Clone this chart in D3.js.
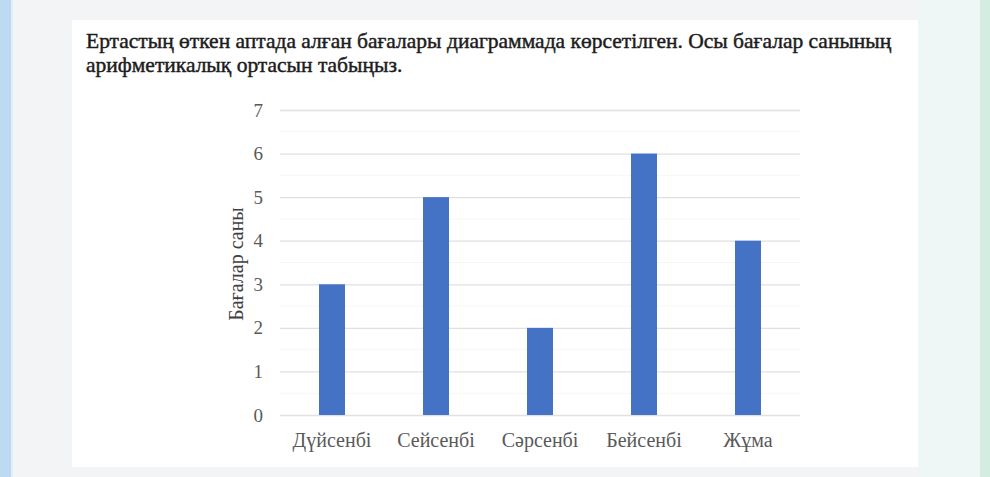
<!DOCTYPE html>
<html><head><meta charset="utf-8">
<script src="https://cdn.jsdelivr.net/npm/d3@7"></script>
<style>
html,body{margin:0;padding:0;background:#f2f4f5;}
svg{display:block;}
</style></head>
<body>
<svg id="c" width="990" height="477"></svg>
<script>
const titleLines = [
  "Ертастың өткен аптада алған бағалары диаграммада көрсетілген. Осы бағалар санының",
  "арифметикалық ортасын табыңыз."
];
const categories = ["Дүйсенбі", "Сейсенбі", "Сәрсенбі", "Бейсенбі", "Жұма"];
const values = [3, 5, 2, 6, 4];
const yTicks = [0, 1, 2, 3, 4, 5, 6, 7];
const yTitle = "Бағалар саны";

const svg = d3.select("#c");
const serif = "'Liberation Serif', 'DejaVu Serif', serif";

// page background
svg.append("rect").attr("x",0).attr("y",0).attr("width",990).attr("height",477).attr("fill","#f3f4f5");
svg.append("rect").attr("x",918).attr("y",0).attr("width",62).attr("height",477).attr("fill","#eff6f6");
svg.append("rect").attr("x",0).attr("y",0).attr("width",11).attr("height",477).attr("fill","#bcdaf1");
svg.append("rect").attr("x",11).attr("y",0).attr("width",2).attr("height",477).attr("fill","#e3eef6");
svg.append("rect").attr("x",980).attr("y",0).attr("width",10).attr("height",477).attr("fill","#d3ede3");
// card
svg.append("rect").attr("x",72).attr("y",20).attr("width",846).attr("height",447).attr("fill","#ffffff");

// title
const titleG = svg.append("g");
const tnodes = titleLines.map((t,i)=> titleG.append("text").attr("x",86).attr("y",48 + i*24)
    .attr("font-family",serif).attr("font-size",20).attr("fill","#1c1c1c")
    .attr("stroke","#1c1c1c").attr("stroke-width",0.45)
    .text(t));
const w0 = tnodes[0].node().getComputedTextLength();
const tfs = w0>0 ? 20*806/w0 : 20;
tnodes.forEach(n=>n.attr("font-size",tfs));

// chart
const x = d3.scaleBand().domain(categories).range([280, 800]).paddingInner(0.75).paddingOuter(0.375);
const y = d3.scaleLinear().domain([0, 7]).range([415, 110]);

// minor gridlines
const minor = d3.range(0.5, 7, 1);
svg.append("g").selectAll("line").data(minor).join("line")
  .attr("x1",280).attr("x2",800).attr("y1",d=>y(d)).attr("y2",d=>y(d))
  .attr("stroke","#f6f6f6").attr("stroke-width",1);

// major gridlines via axis
const gy = svg.append("g").attr("transform","translate(280,0)")
  .call(d3.axisLeft(y).tickValues(yTicks).tickSize(-520).tickFormat(d3.format("d")));
gy.select(".domain").remove();
gy.selectAll(".tick line").attr("stroke","#e0e0e0").attr("stroke-width",1.3);
gy.selectAll(".tick text").attr("x",-17).attr("font-family",serif).attr("font-size",19)
  .attr("fill","#595959");

// bars
svg.append("g").selectAll("rect").data(values).join("rect")
  .attr("x",(d,i)=>x(categories[i]))
  .attr("width",x.bandwidth())
  .attr("y",d=>y(d))
  .attr("height",d=>y(0)-y(d))
  .attr("fill","#4472c4");

// x axis labels
const gx = svg.append("g").attr("transform","translate(0,415)")
  .call(d3.axisBottom(x).tickSize(0).tickPadding(18));
gx.select(".domain").remove();
gx.selectAll(".tick text").attr("font-family",serif).attr("font-size",20).attr("fill","#595959");

// y title
svg.append("text").attr("transform","translate(243,264) rotate(-90)")
  .attr("text-anchor","middle").attr("font-family",serif).attr("font-size",20)
  .attr("fill","#404040").text(yTitle);
</script>
</body></html>
